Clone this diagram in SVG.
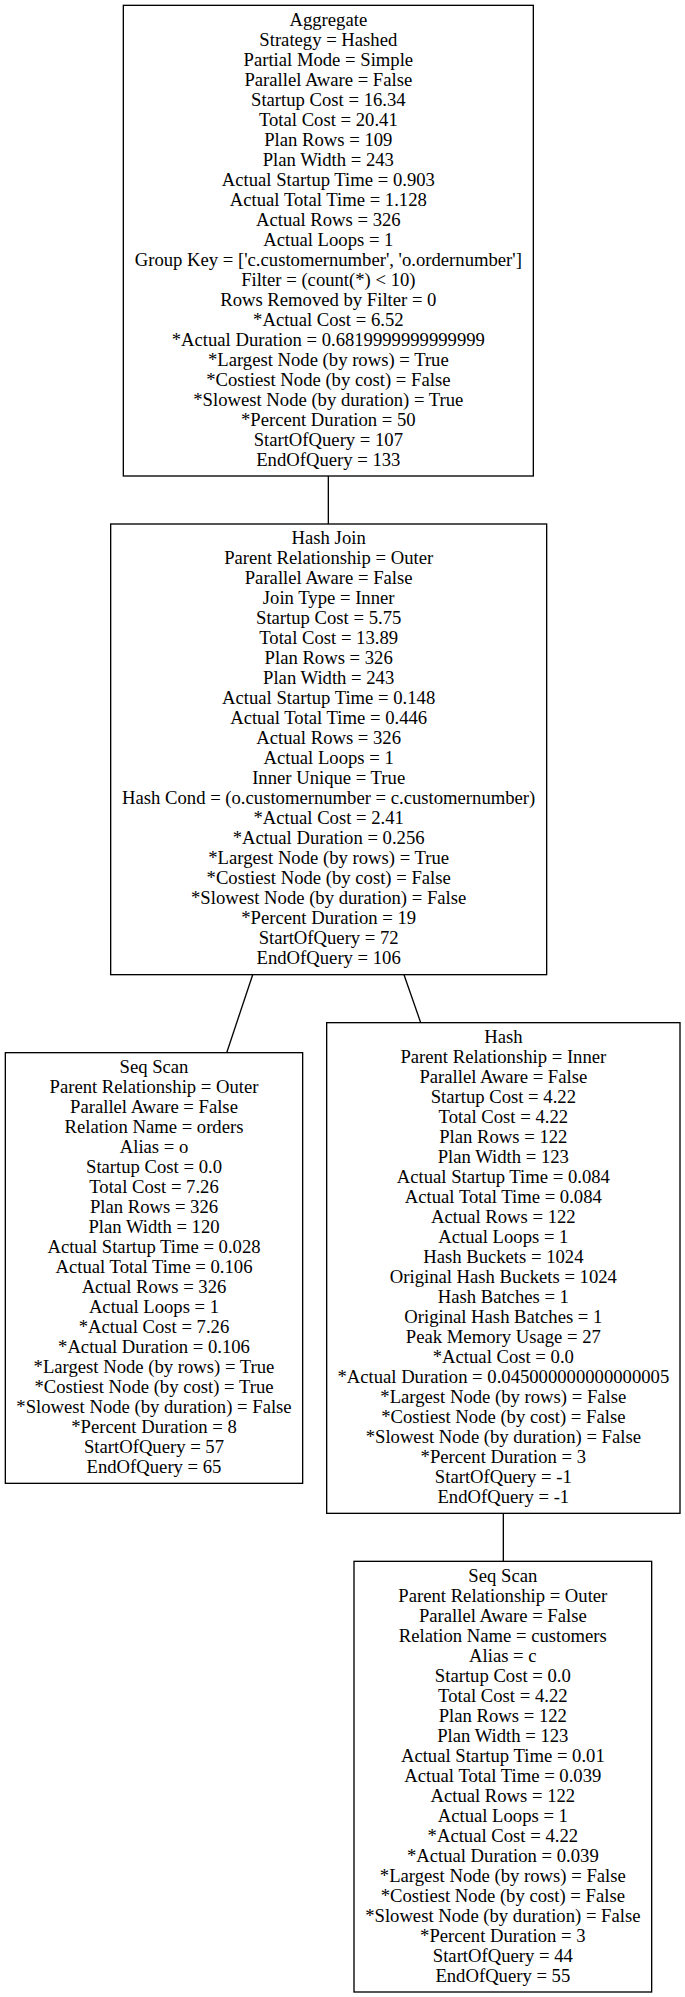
<svg xmlns="http://www.w3.org/2000/svg" width="685" height="1997" viewBox="0 0 685 1997">
<style>
.box{fill:none;stroke:#000;stroke-width:1.33}
.edge{fill:none;stroke:#000;stroke-width:1.33}
text{font-family:"Liberation Serif","Times New Roman",serif;font-size:18.67px;fill:#000;text-anchor:middle}
</style>
<rect x="0" y="0" width="685" height="1997" fill="#fff"/>
<g id="edges">
<path class="edge" d="M328.33,476 L328.33,524"/>
<path class="edge" d="M252.7,974.67 L226.7,1052.67"/>
<path class="edge" d="M404,974.67 L420.7,1022.67"/>
<path class="edge" d="M503.33,1513.33 L503.33,1561.33"/>
</g>
<g id="aggregate">
<rect class="box" x="123.33" y="5.33" width="410" height="470.67"/>
<text x="328.33" y="25.74"><tspan x="328.33">Aggregate</tspan><tspan x="328.33" dy="20">Strategy = Hashed</tspan><tspan x="328.33" dy="20">Partial Mode = Simple</tspan><tspan x="328.33" dy="20">Parallel Aware = False</tspan><tspan x="328.33" dy="20">Startup Cost = 16.34</tspan><tspan x="328.33" dy="20">Total Cost = 20.41</tspan><tspan x="328.33" dy="20">Plan Rows = 109</tspan><tspan x="328.33" dy="20">Plan Width = 243</tspan><tspan x="328.33" dy="20">Actual Startup Time = 0.903</tspan><tspan x="328.33" dy="20">Actual Total Time = 1.128</tspan><tspan x="328.33" dy="20">Actual Rows = 326</tspan><tspan x="328.33" dy="20">Actual Loops = 1</tspan><tspan x="328.33" dy="20">Group Key = ['c.customernumber', 'o.ordernumber']</tspan><tspan x="328.33" dy="20">Filter = (count(*) &lt; 10)</tspan><tspan x="328.33" dy="20">Rows Removed by Filter = 0</tspan><tspan x="328.33" dy="20">*Actual Cost = 6.52</tspan><tspan x="328.33" dy="20">*Actual Duration = 0.6819999999999999</tspan><tspan x="328.33" dy="20">*Largest Node (by rows) = True</tspan><tspan x="328.33" dy="20">*Costiest Node (by cost) = False</tspan><tspan x="328.33" dy="20">*Slowest Node (by duration) = True</tspan><tspan x="328.33" dy="20">*Percent Duration = 50</tspan><tspan x="328.33" dy="20">StartOfQuery = 107</tspan><tspan x="328.33" dy="20">EndOfQuery = 133</tspan></text>
</g>
<g id="hashjoin">
<rect class="box" x="110.67" y="524" width="436" height="450.67"/>
<text x="328.67" y="544.4"><tspan x="328.67">Hash Join</tspan><tspan x="328.67" dy="20">Parent Relationship = Outer</tspan><tspan x="328.67" dy="20">Parallel Aware = False</tspan><tspan x="328.67" dy="20">Join Type = Inner</tspan><tspan x="328.67" dy="20">Startup Cost = 5.75</tspan><tspan x="328.67" dy="20">Total Cost = 13.89</tspan><tspan x="328.67" dy="20">Plan Rows = 326</tspan><tspan x="328.67" dy="20">Plan Width = 243</tspan><tspan x="328.67" dy="20">Actual Startup Time = 0.148</tspan><tspan x="328.67" dy="20">Actual Total Time = 0.446</tspan><tspan x="328.67" dy="20">Actual Rows = 326</tspan><tspan x="328.67" dy="20">Actual Loops = 1</tspan><tspan x="328.67" dy="20">Inner Unique = True</tspan><tspan x="328.67" dy="20">Hash Cond = (o.customernumber = c.customernumber)</tspan><tspan x="328.67" dy="20">*Actual Cost = 2.41</tspan><tspan x="328.67" dy="20">*Actual Duration = 0.256</tspan><tspan x="328.67" dy="20">*Largest Node (by rows) = True</tspan><tspan x="328.67" dy="20">*Costiest Node (by cost) = False</tspan><tspan x="328.67" dy="20">*Slowest Node (by duration) = False</tspan><tspan x="328.67" dy="20">*Percent Duration = 19</tspan><tspan x="328.67" dy="20">StartOfQuery = 72</tspan><tspan x="328.67" dy="20">EndOfQuery = 106</tspan></text>
</g>
<g id="seqscan_orders">
<rect class="box" x="5.33" y="1052.67" width="297.33" height="430.67"/>
<text x="154" y="1073.07"><tspan x="154">Seq Scan</tspan><tspan x="154" dy="20">Parent Relationship = Outer</tspan><tspan x="154" dy="20">Parallel Aware = False</tspan><tspan x="154" dy="20">Relation Name = orders</tspan><tspan x="154" dy="20">Alias = o</tspan><tspan x="154" dy="20">Startup Cost = 0.0</tspan><tspan x="154" dy="20">Total Cost = 7.26</tspan><tspan x="154" dy="20">Plan Rows = 326</tspan><tspan x="154" dy="20">Plan Width = 120</tspan><tspan x="154" dy="20">Actual Startup Time = 0.028</tspan><tspan x="154" dy="20">Actual Total Time = 0.106</tspan><tspan x="154" dy="20">Actual Rows = 326</tspan><tspan x="154" dy="20">Actual Loops = 1</tspan><tspan x="154" dy="20">*Actual Cost = 7.26</tspan><tspan x="154" dy="20">*Actual Duration = 0.106</tspan><tspan x="154" dy="20">*Largest Node (by rows) = True</tspan><tspan x="154" dy="20">*Costiest Node (by cost) = True</tspan><tspan x="154" dy="20">*Slowest Node (by duration) = False</tspan><tspan x="154" dy="20">*Percent Duration = 8</tspan><tspan x="154" dy="20">StartOfQuery = 57</tspan><tspan x="154" dy="20">EndOfQuery = 65</tspan></text>
</g>
<g id="hash">
<rect class="box" x="326.67" y="1022.67" width="353.33" height="490.67"/>
<text x="503.33" y="1043.07"><tspan x="503.33">Hash</tspan><tspan x="503.33" dy="20">Parent Relationship = Inner</tspan><tspan x="503.33" dy="20">Parallel Aware = False</tspan><tspan x="503.33" dy="20">Startup Cost = 4.22</tspan><tspan x="503.33" dy="20">Total Cost = 4.22</tspan><tspan x="503.33" dy="20">Plan Rows = 122</tspan><tspan x="503.33" dy="20">Plan Width = 123</tspan><tspan x="503.33" dy="20">Actual Startup Time = 0.084</tspan><tspan x="503.33" dy="20">Actual Total Time = 0.084</tspan><tspan x="503.33" dy="20">Actual Rows = 122</tspan><tspan x="503.33" dy="20">Actual Loops = 1</tspan><tspan x="503.33" dy="20">Hash Buckets = 1024</tspan><tspan x="503.33" dy="20">Original Hash Buckets = 1024</tspan><tspan x="503.33" dy="20">Hash Batches = 1</tspan><tspan x="503.33" dy="20">Original Hash Batches = 1</tspan><tspan x="503.33" dy="20">Peak Memory Usage = 27</tspan><tspan x="503.33" dy="20">*Actual Cost = 0.0</tspan><tspan x="503.33" dy="20">*Actual Duration = 0.045000000000000005</tspan><tspan x="503.33" dy="20">*Largest Node (by rows) = False</tspan><tspan x="503.33" dy="20">*Costiest Node (by cost) = False</tspan><tspan x="503.33" dy="20">*Slowest Node (by duration) = False</tspan><tspan x="503.33" dy="20">*Percent Duration = 3</tspan><tspan x="503.33" dy="20">StartOfQuery = -1</tspan><tspan x="503.33" dy="20">EndOfQuery = -1</tspan></text>
</g>
<g id="seqscan_customers">
<rect class="box" x="354" y="1561.33" width="297.67" height="430.67"/>
<text x="502.83" y="1581.73"><tspan x="502.83">Seq Scan</tspan><tspan x="502.83" dy="20">Parent Relationship = Outer</tspan><tspan x="502.83" dy="20">Parallel Aware = False</tspan><tspan x="502.83" dy="20">Relation Name = customers</tspan><tspan x="502.83" dy="20">Alias = c</tspan><tspan x="502.83" dy="20">Startup Cost = 0.0</tspan><tspan x="502.83" dy="20">Total Cost = 4.22</tspan><tspan x="502.83" dy="20">Plan Rows = 122</tspan><tspan x="502.83" dy="20">Plan Width = 123</tspan><tspan x="502.83" dy="20">Actual Startup Time = 0.01</tspan><tspan x="502.83" dy="20">Actual Total Time = 0.039</tspan><tspan x="502.83" dy="20">Actual Rows = 122</tspan><tspan x="502.83" dy="20">Actual Loops = 1</tspan><tspan x="502.83" dy="20">*Actual Cost = 4.22</tspan><tspan x="502.83" dy="20">*Actual Duration = 0.039</tspan><tspan x="502.83" dy="20">*Largest Node (by rows) = False</tspan><tspan x="502.83" dy="20">*Costiest Node (by cost) = False</tspan><tspan x="502.83" dy="20">*Slowest Node (by duration) = False</tspan><tspan x="502.83" dy="20">*Percent Duration = 3</tspan><tspan x="502.83" dy="20">StartOfQuery = 44</tspan><tspan x="502.83" dy="20">EndOfQuery = 55</tspan></text>
</g>
</svg>
